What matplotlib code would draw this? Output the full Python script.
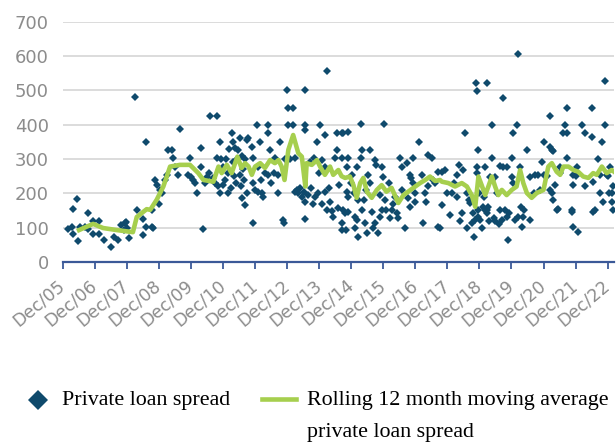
import numpy as np
import matplotlib
matplotlib.use('Agg')
import matplotlib.pyplot as plt
from matplotlib.lines import Line2D

# x positions are years since Dec 2005, values in bps
tick_labels = ['Dec/%02d' % y for y in range(5, 23)]

# private loan spread
t_0508 = [0.16, 0.3, 0.33, 0.44, 0.33, 0.49, 0.54, 0.7, 0.8, 0.8, 0.96, 0.96, 1.14, 1.14, 1.3, 1.51,
          1.61, 1.73, 1.82, 1.94, 1.9, 2.07, 2.0, 1.98, 2.26, 2.31, 2.5, 2.59, 2.59, 2.8, 2.8, 2.5]
v_0508 = [96, 103, 154, 184, 82, 61, 103, 103, 143, 96, 120, 82, 120, 82, 64, 45,
          74, 64, 108, 113, 93, 70, 100, 118, 481, 152, 79, 351, 102, 102, 152, 125]

t_0811 = [2.83, 2.88, 2.93, 3.04, 3.24, 3.3, 3.4, 3.45, 3.5, 3.66, 3.6, 3.97, 3.92, 4.07, 4.13, 4.2,
          4.31, 4.3, 4.37, 4.49, 4.6, 4.8, 4.8, 4.91, 4.86, 4.91, 5.01, 5.06, 5.17, 5.27, 5.32, 5.38,
          5.48, 5.53, 5.53, 5.58, 5.69, 5.74, 5.76, 5.1, 5.2, 5.15, 5.3, 5.35, 5.4, 5.45, 5.6, 5.65,
          5.7, 5.0, 4.95, 5.25, 5.55, 5.62, 3.1, 3.2, 3.0, 4.0, 4.45, 4.55, 4.7, 4.75]
v_0811 = [100, 239, 224, 210, 254, 327, 327, 303, 278, 388, 254, 303, 254, 239, 230, 201,
          332, 278, 96, 249, 425, 425, 303, 351, 220, 201, 278, 239, 201, 376, 351, 332,
          327, 361, 254, 187, 166, 356, 201, 300, 330, 260, 290, 250, 230, 300, 310, 240,
          300, 225, 300, 215, 220, 270, 200, 240, 170, 248, 230, 260, 245, 230]

t_1114 = [5.79, 5.9, 5.95, 5.95, 5.95, 6.05, 6.1, 6.16, 6.21, 6.26, 6.41, 6.41, 6.41, 6.47, 6.62,
          6.73, 6.73, 6.78, 6.88, 6.9, 6.99, 7.04, 7.04, 7.19, 7.19, 7.25, 7.25, 7.41, 7.52, 7.57, 7.57,
          7.57, 7.57, 7.57, 7.72, 7.83, 7.88, 7.93, 8.04, 8.09, 8.18, 8.18, 8.18, 8.24, 8.24, 8.34,
          8.44, 8.5, 8.55, 8.55, 8.6, 8.62, 8.7, 8.72, 8.72, 6.0, 6.1, 6.2, 6.3, 6.5, 6.6, 6.95, 7.0,
          7.1, 7.3, 7.35, 7.45, 7.65, 7.75, 7.8, 7.95, 8.0, 8.1, 8.3, 8.4]
v_1114 = [361, 336, 303, 230, 113, 400, 278, 351, 201, 190, 400, 376, 254, 327, 303,
          254, 201, 351, 122, 113, 501, 449, 400, 449, 400, 303, 205, 216, 205, 501, 400,
          385, 176, 125, 292, 303, 190, 351, 400, 297, 370, 278, 205, 555, 152, 176,
          132, 303, 327, 376, 157, 224, 113, 376, 93, 210, 205, 240, 260, 230, 260, 300, 300,
          300, 210, 200, 190, 195, 215, 170, 200, 260, 170, 215, 150]

t_1417 = [8.76, 8.91, 9.3, 10.03, 8.7, 8.9, 8.86, 9.02, 8.86, 8.9, 8.76, 8.8, 8.9, 8.84, 9.12, 9.17,
          9.12, 9.22, 9.33, 9.3, 9.17, 9.22, 9.33, 9.43, 9.49, 9.54, 9.59, 9.64, 9.69, 9.74, 9.74, 9.78,
          9.85, 9.89, 9.95, 9.95, 10.0, 10.1, 10.19, 10.21, 10.26, 10.37, 10.42, 10.47, 10.53, 10.57,
          10.68, 10.73, 10.78, 10.84, 10.84, 10.88, 10.94, 10.94, 10.99, 11.13, 11.2, 11.23, 11.3, 11.33,
          11.41, 11.51, 11.56, 11.72, 11.72, 9.0, 9.1, 9.4, 9.45, 9.6, 9.9, 10.05, 10.3, 10.6, 11.0,
          11.4, 11.6]
v_1417 = [376, 380, 402, 402, 303, 303, 278, 254, 205, 190, 152, 143, 147, 93, 132, 122,
          99, 74, 327, 303, 278, 181, 152, 113, 85, 254, 327, 147, 99, 113, 297, 283,
          85, 132, 152, 278, 249, 152, 230, 128, 152, 190, 143, 128, 303, 278,
          99, 288, 187, 254, 161, 245, 303, 230, 176, 351, 254, 113, 201, 176,
          312, 303, 239, 103, 263, 230, 200, 180, 210, 230, 195, 180, 170, 210, 200,
          220, 230]

t_1720 = [11.77, 11.83, 11.93, 11.83, 12.09, 12.14, 12.3, 12.35, 12.3, 12.45, 12.5, 12.55, 12.61, 12.66,
          12.71, 12.76, 12.81, 12.84, 12.87, 12.89, 12.92, 12.95, 12.92, 12.92, 12.97, 12.97, 13.02,
          13.07, 13.13, 13.18, 13.18, 13.23, 13.23, 13.25, 13.28, 13.33, 13.4, 13.4, 13.44, 13.49, 13.54,
          13.64, 13.7, 13.75, 13.75, 13.8, 13.85, 13.85, 13.9, 13.93, 14.01, 14.01, 14.06, 14.06, 14.11,
          14.16, 14.21, 14.27, 14.32, 14.37, 14.4, 14.48, 14.58, 12.0, 12.2, 12.6, 13.0, 13.1, 13.3,
          13.5, 13.6, 13.65, 14.2, 14.3, 12.4]
v_1720 = [100, 263, 268, 166, 137, 201, 254, 283, 190, 143, 268, 376, 100, 181,
          172, 113, 143, 74, 122, 522, 499, 327, 278, 259, 152, 132, 122,
          99, 190, 278, 152, 522, 152, 143, 161, 249, 400, 303, 128, 249, 201,
          152, 122, 478, 278, 152, 278, 132, 64, 143, 303, 249, 376, 230, 122,
          400, 606, 278, 103, 132, 152, 327, 249, 200, 230, 200, 200, 160, 120,
          120, 110, 280, 130, 160, 120]

t_2023 = [14.58, 14.74, 14.84, 14.94, 15.0, 15.0, 15.2, 15.2, 15.26, 15.3, 15.2, 15.26, 15.31, 15.36,
          15.41, 15.44, 15.52, 15.62, 15.67, 15.73, 15.73, 15.73, 15.88, 15.9, 15.93, 15.93, 15.93,
          16.08, 16.05, 16.19, 16.3, 16.5, 16.5, 16.55, 16.55, 16.6, 16.77, 16.77, 16.82, 16.87, 16.92,
          16.92, 16.97, 17.03, 17.08, 17.14, 17.14, 17.16, 17.18, 14.7, 14.9, 15.1, 15.5, 16.0, 16.3,
          16.7, 17.0]
v_2023 = [122, 254, 254, 292, 351, 254, 425, 336, 327, 322, 210, 201, 181, 224,
          152, 155, 278, 376, 400, 450, 376, 303, 152, 147, 254, 224, 102,
          88, 278, 400, 376, 450, 365, 234, 147, 152, 254, 201, 351, 176, 526,
          400, 254, 201, 278, 201, 176, 152, 220, 200, 210, 250, 260, 250, 220,
          300, 250]

# rolling 12 month moving average
ma_t = [0.51, 0.75, 0.95, 1.26, 1.69, 2.19, 2.31, 2.62, 2.73, 2.93, 3.14, 3.35, 3.66, 3.97, 4.23, 4.39,
        4.7, 4.86, 4.96, 5.12, 5.27, 5.45, 5.58, 5.69, 5.8, 5.9, 6.0, 6.16, 6.31, 6.47, 6.62, 6.73,
        6.83, 6.92, 7.04, 7.19, 7.35, 7.46, 7.57, 7.61, 7.77, 7.93, 8.03, 8.18, 8.34, 8.44, 8.6, 8.7,
        8.81, 8.96, 9.07, 9.17, 9.28, 9.38, 9.49, 9.64, 9.8, 9.95, 10.1, 10.26, 10.47, 10.63, 10.78,
        10.94, 11.15, 11.31, 11.46, 11.62, 11.77, 11.83, 12.03, 12.24, 12.45, 12.61, 12.76, 12.87,
        12.97, 13.07, 13.18, 13.28, 13.39, 13.49, 13.59, 13.7, 13.85, 14.01, 14.16, 14.27, 14.37,
        14.48, 14.63, 14.79, 15.0, 15.15, 15.26, 15.41, 15.52, 15.62, 15.78, 15.93, 16.08, 16.24,
        16.4, 16.55, 16.66, 16.82, 16.97, 17.13, 17.2]
ma_v = [93, 103, 111, 99, 93, 87, 131, 154, 152, 181, 220, 278, 283, 283, 259, 239,
        234, 278, 259, 283, 259, 307, 274, 288, 278, 254, 278, 288, 274, 297, 288, 297,
        278, 239, 327, 370, 317, 307, 220, 288, 283, 297, 278, 254, 278, 254, 268, 250,
        245, 249, 224, 187, 230, 245, 205, 187, 210, 224, 205, 216, 172, 195, 205,
        216, 230, 239, 249, 236, 239, 234, 230, 220, 230, 220, 195, 161,
        249, 224, 195, 220, 249, 220, 195, 210, 195, 210, 220, 268, 230,
        201, 187, 201, 210, 278, 288, 263, 254, 278, 278, 268, 263, 249,
        245, 259, 254, 278, 259, 268, 263]

spread_t = t_0508 + t_0811 + t_1114 + t_1417 + t_1720 + t_2023
spread_v = v_0508 + v_0811 + v_1114 + v_1417 + v_1720 + v_2023

navy = '#0f4a6c'
green = '#a6cf4e'
grey = '#8c8c8c'
axis_blue = '#3b5998'

fig = plt.figure(figsize=(6.16, 4.45), dpi=100)
ax = fig.add_axes([0.1018, 0.4112, 0.895, 0.54])

ax.plot(spread_t, spread_v, linestyle='none', marker='D', ms=3.9, mew=0,
        color=navy, zorder=3)
ax.plot(ma_t, ma_v, color=green, lw=3.3, solid_joinstyle='round', zorder=4)

ax.set_xlim(0, 17.2)
ax.set_ylim(0, 700)
ax.set_yticks(range(0, 701, 100))
ax.set_xticks(range(len(tick_labels)))
ax.set_xticklabels(tick_labels, rotation=40, ha='right', va='center',
                   rotation_mode='anchor')

ax.grid(axis='y', color='#d9d9d9', lw=1.3)
ax.set_axisbelow(True)
for s in ['top', 'right', 'left']:
    ax.spines[s].set_visible(False)
ax.spines['bottom'].set_color(axis_blue)
ax.spines['bottom'].set_linewidth(1.6)
ax.spines['bottom'].set_zorder(5)
ax.tick_params(axis='y', length=0, labelsize=13, labelcolor=grey, pad=10)
ax.tick_params(axis='x', length=5, width=1.3, color=axis_blue, labelsize=12.5,
               labelcolor=grey, pad=10)

# legend, drawn by hand so the second label can wrap under itself
serif = 'Liberation Serif'
fs = 15.8
fig.add_artist(Line2D([38 / 616], [1 - 400 / 445], marker='D', ms=10, mew=0,
                      color=navy, transform=fig.transFigure))
fig.text(62 / 616, 1 - 400 / 445, 'Private loan spread', family=serif, fontsize=fs,
         va='center', ha='left')
fig.add_artist(Line2D([262 / 616, 296 / 616], [1 - 399 / 445] * 2, lw=3.3, color=green,
                      transform=fig.transFigure))
fig.text(307 / 616, 1 - 400 / 445, 'Rolling 12 month moving average', family=serif,
         fontsize=fs, va='center', ha='left')
fig.text(307 / 616, 1 - 433 / 445, 'private loan spread', family=serif, fontsize=fs,
         va='center', ha='left')

fig.savefig('out.png', dpi=100)
